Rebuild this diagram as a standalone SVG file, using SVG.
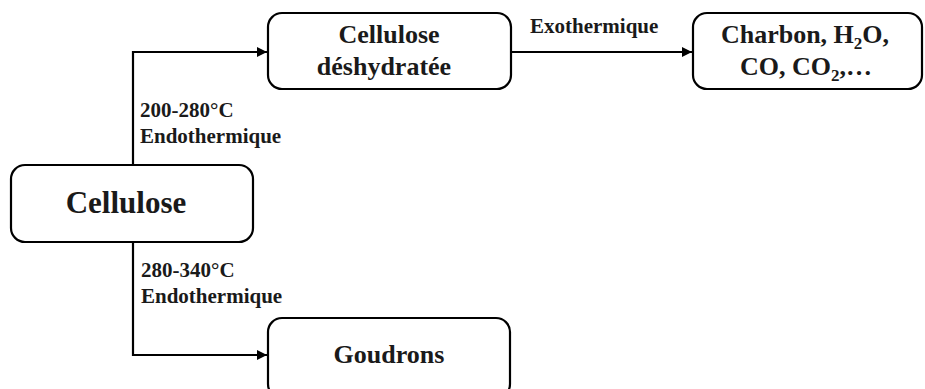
<svg xmlns="http://www.w3.org/2000/svg" width="925" height="389" viewBox="0 0 925 389">
<style>
.box{fill:#fff;stroke:#000;stroke-width:2.2}
.t{font-family:"Liberation Serif",serif;font-weight:bold;fill:#1a1a1a}
.big{font-size:31px}
.mid{font-size:26px}
.sm{font-size:21px}
.c{fill:none;stroke:#000;stroke-width:2.2}
</style>
<defs>
<marker id="ah" viewBox="0 0 10 10" refX="10" refY="5" markerWidth="10" markerHeight="10" markerUnits="userSpaceOnUse" orient="auto">
<path d="M0,0 L10,5 L0,10 z" fill="#000"/>
</marker>
</defs>
<g id="connectors">
<path class="c" d="M133,165 L133,52 L267,52" marker-end="url(#ah)"/>
<path class="c" d="M133,242 L133,355 L267,355" marker-end="url(#ah)"/>
<path class="c" d="M511,52 L692,52" marker-end="url(#ah)"/>
</g>
<g id="labels">
<text class="t sm" x="140" y="117">200-280°C</text>
<text class="t sm" x="140" y="143">Endothermique</text>
<text class="t sm" x="141" y="277">280-340°C</text>
<text class="t sm" x="141" y="303">Endothermique</text>
<text class="t sm" x="530" y="33">Exothermique</text>
</g>
<g id="cellulose">
<rect class="box" x="11" y="165" width="242" height="77" rx="14"/>
<text class="t big" x="126" y="213" text-anchor="middle">Cellulose</text>
</g>
<g id="cellulose-deshydratee">
<rect class="box" x="268" y="13" width="243" height="76" rx="14"/>
<text class="t mid" x="389" y="43" text-anchor="middle">Cellulose</text>
<text class="t mid" x="384" y="75" text-anchor="middle">déshydratée</text>
</g>
<g id="charbon">
<rect class="box" x="693" y="13" width="229" height="76" rx="14"/>
<text class="t mid" x="805" y="43" text-anchor="middle">Charbon, H<tspan font-size="17" dy="6">2</tspan><tspan dy="-6">O,</tspan></text>
<text class="t mid" x="806" y="75" text-anchor="middle">CO, CO<tspan font-size="17" dy="6">2</tspan><tspan dy="-6">,…</tspan></text>
</g>
<g id="goudrons">
<rect class="box" x="268" y="318" width="242" height="80" rx="14"/>
<text class="t mid" x="389" y="363" text-anchor="middle">Goudrons</text>
</g>
</svg>
